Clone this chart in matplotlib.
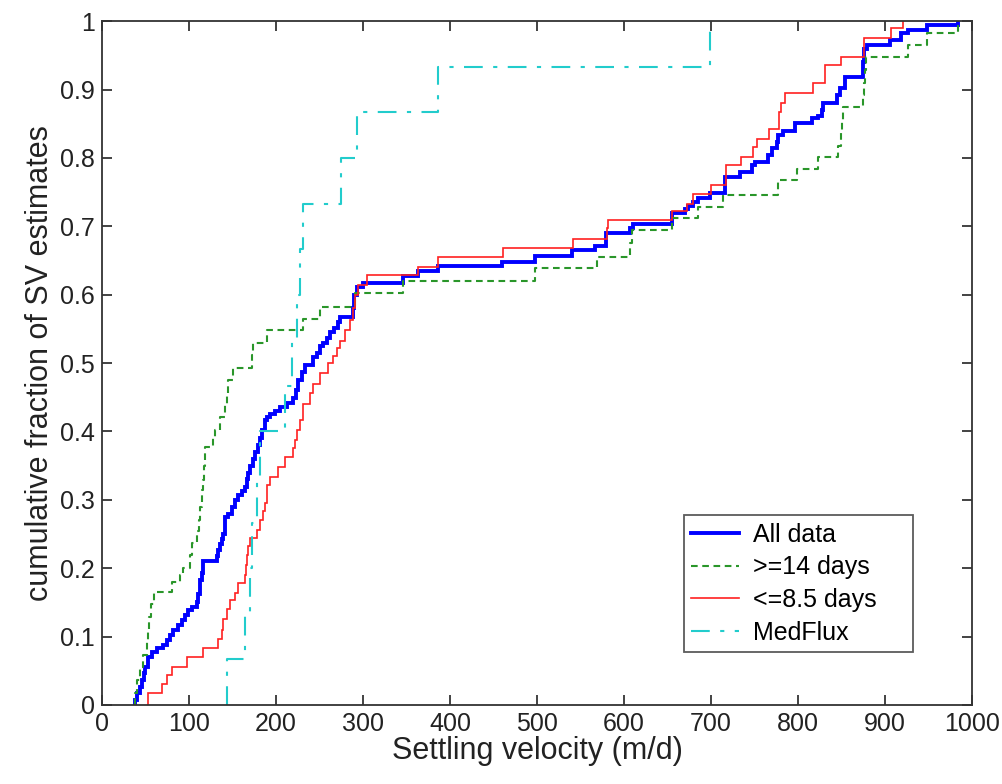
import matplotlib
matplotlib.use("Agg")
import matplotlib.pyplot as plt
from matplotlib import font_manager

# ---------------- data ----------------
# velocities (m/d) where each cumulative curve steps, and the fraction after the step
all_v = [38, 40, 44, 46, 48, 49, 53, 57, 63, 70, 75, 78, 82, 87, 92, 95, 99, 103, 109, 110,
         113, 115, 116, 132, 133, 136, 138, 139, 141, 145, 149, 153, 156, 161, 164, 167, 168,
         170, 174, 176, 179, 182, 184, 187, 190, 193, 199, 205, 213, 220, 223, 225, 230, 233,
         243, 247, 251, 254, 259, 262, 267, 271, 274, 289, 290, 293, 300, 346, 363, 386, 460,
         498, 540, 567, 579, 607, 610, 655, 670, 674, 679, 685, 699, 716, 733, 747, 751, 766,
         770, 776, 777, 783, 797, 816, 823, 828, 829, 845, 848, 854, 875, 876, 879, 906, 919,
         926, 948, 984]
all_f = [0.008, 0.017, 0.027, 0.037, 0.047, 0.056, 0.070, 0.077, 0.083, 0.088, 0.095, 0.102,
         0.110, 0.117, 0.124, 0.132, 0.139, 0.143, 0.150, 0.163, 0.183, 0.193, 0.210, 0.218,
         0.227, 0.235, 0.242, 0.250, 0.275, 0.280, 0.290, 0.300, 0.307, 0.313, 0.319, 0.330,
         0.339, 0.350, 0.360, 0.370, 0.380, 0.390, 0.402, 0.417, 0.421, 0.426, 0.430, 0.436,
         0.441, 0.449, 0.460, 0.475, 0.487, 0.497, 0.509, 0.515, 0.525, 0.530, 0.537, 0.545,
         0.552, 0.560, 0.567, 0.580, 0.600, 0.611, 0.617, 0.627, 0.635, 0.642, 0.648, 0.656,
         0.665, 0.671, 0.690, 0.697, 0.704, 0.719, 0.725, 0.730, 0.735, 0.741, 0.749, 0.772,
         0.779, 0.789, 0.794, 0.804, 0.814, 0.823, 0.833, 0.840, 0.851, 0.858, 0.862, 0.870,
         0.880, 0.892, 0.902, 0.918, 0.940, 0.960, 0.965, 0.972, 0.982, 0.987, 0.994, 1.000]

long_v = [38, 40, 44, 47, 52, 53, 54, 56, 60, 80, 90, 93, 101, 103, 109, 111, 113, 115, 116,
          117, 118, 128, 130, 136, 141, 144, 145, 151, 172, 174, 190, 231, 251, 291, 346, 498,
          569, 607, 609, 655, 685, 714, 777, 799, 823, 846, 849, 851, 852, 875, 876, 877, 878,
          926, 948, 984]
long_f = [0.018, 0.037, 0.055, 0.073, 0.095, 0.110, 0.129, 0.147, 0.165, 0.180, 0.190, 0.200,
          0.220, 0.237, 0.255, 0.270, 0.290, 0.314, 0.329, 0.350, 0.377, 0.390, 0.402, 0.421,
          0.440, 0.455, 0.475, 0.493, 0.512, 0.530, 0.548, 0.564, 0.582, 0.602, 0.620, 0.639,
          0.655, 0.675, 0.694, 0.712, 0.728, 0.746, 0.768, 0.784, 0.801, 0.818, 0.837, 0.855,
          0.874, 0.892, 0.910, 0.928, 0.947, 0.965, 0.982, 1.000]

short_v = [53, 69, 75, 80, 98, 116, 133, 138, 139, 144, 147, 153, 156, 164, 166, 167, 168, 170,
           178, 182, 185, 187, 190, 193, 202, 210, 220, 222, 224, 228, 231, 239, 243, 251, 260,
           266, 270, 274, 279, 285, 289, 291, 294, 305, 363, 386, 461, 541, 580, 582, 655, 672,
           679, 700, 717, 734, 748, 753, 767, 778, 780, 785, 817, 831, 849, 876, 907, 921]
short_f = [0.017, 0.031, 0.044, 0.056, 0.070, 0.083, 0.096, 0.110, 0.125, 0.140, 0.154, 0.164,
           0.178, 0.190, 0.205, 0.220, 0.232, 0.244, 0.256, 0.270, 0.283, 0.295, 0.321, 0.333,
           0.348, 0.363, 0.376, 0.387, 0.402, 0.417, 0.440, 0.456, 0.470, 0.485, 0.500, 0.510,
           0.522, 0.533, 0.548, 0.563, 0.580, 0.600, 0.614, 0.629, 0.641, 0.655, 0.668, 0.682,
           0.697, 0.709, 0.722, 0.733, 0.747, 0.761, 0.789, 0.801, 0.816, 0.827, 0.843, 0.867,
           0.881, 0.895, 0.909, 0.936, 0.947, 0.975, 0.990, 1.000]

medflux_v = [144, 164, 170, 172, 178, 182, 210, 218, 224, 228, 231, 275, 293, 386, 699]

labels = ["All data", ">=14 days", "<=8.5 days", "MedFlux"]
xticks = [0, 100, 200, 300, 400, 500, 600, 700, 800, 900, 1000]
yticks = [0, 0.1, 0.2, 0.3, 0.4, 0.5, 0.6, 0.7, 0.8, 0.9, 1]
ytick_labels = ["0", "0.1", "0.2", "0.3", "0.4", "0.5", "0.6", "0.7", "0.8", "0.9", "1"]
xlabel = "Settling velocity (m/d)"
ylabel = "cumulative fraction of SV estimates"

# ---------------- style ----------------
names = {f.name for f in font_manager.fontManager.ttflist}
fam = [f for f in ["Liberation Sans Narrow", "Liberation Sans", "DejaVu Sans"] if f in names]
plt.rcParams["font.family"] = fam

fig = plt.figure(figsize=(10.02, 7.84), dpi=100)
ax = fig.add_axes([0.1018, 0.1008, 0.8682, 0.8722])


def stepline(v, f, **kw):
    x = [v[0]] + list(v)
    y = [0.0] + list(f)
    return ax.step(x, y, where="post", solid_joinstyle="miter", **kw)[0]


n_med = len(medflux_v)
med_f = [(i + 1) / n_med for i in range(n_med)]

h1 = stepline(all_v, all_f, color="#0000ff", lw=2.8, label=labels[0])
h2 = stepline(long_v, long_f, color="#2a962a", lw=1.5, linestyle=(0, (3.2, 2.2)), label=labels[1])
h3 = stepline(short_v, short_f, color="#ff2020", lw=1.2, label=labels[2])
h4 = stepline(medflux_v, med_f, color="#22cccc", lw=1.5, linestyle=(0, (9, 5, 2, 5)), label=labels[3])

ax.set_xlim(0, 1000)
ax.set_ylim(0, 1)
ax.set_xticks(xticks)
ax.set_xticklabels([str(t) for t in xticks])
ax.set_yticks(yticks)
ax.set_yticklabels(ytick_labels)
ax.tick_params(direction="in", length=7, width=1.2, top=True, right=True,
               labelsize=18, pad=5, colors="#222222")
for s in ax.spines.values():
    s.set_linewidth(1.3)
    s.set_color("#333333")

ax.set_xlabel(xlabel, fontsize=22, labelpad=0, color="#222222")
ax.set_ylabel(ylabel, fontsize=22, labelpad=4, color="#222222")

leg = ax.legend(handles=[h1, h2, h3, h4], loc="lower left",
                bbox_to_anchor=(0.669, 0.077, 0.263, 0.204), mode="expand",
                fontsize=18, frameon=True, fancybox=False, edgecolor="#333333",
                handlelength=1.9, handletextpad=0.55, borderpad=0.3, labelspacing=0.35,
                borderaxespad=0)
leg.get_frame().set_linewidth(1.3)

fig.savefig("out.png", dpi=100)
